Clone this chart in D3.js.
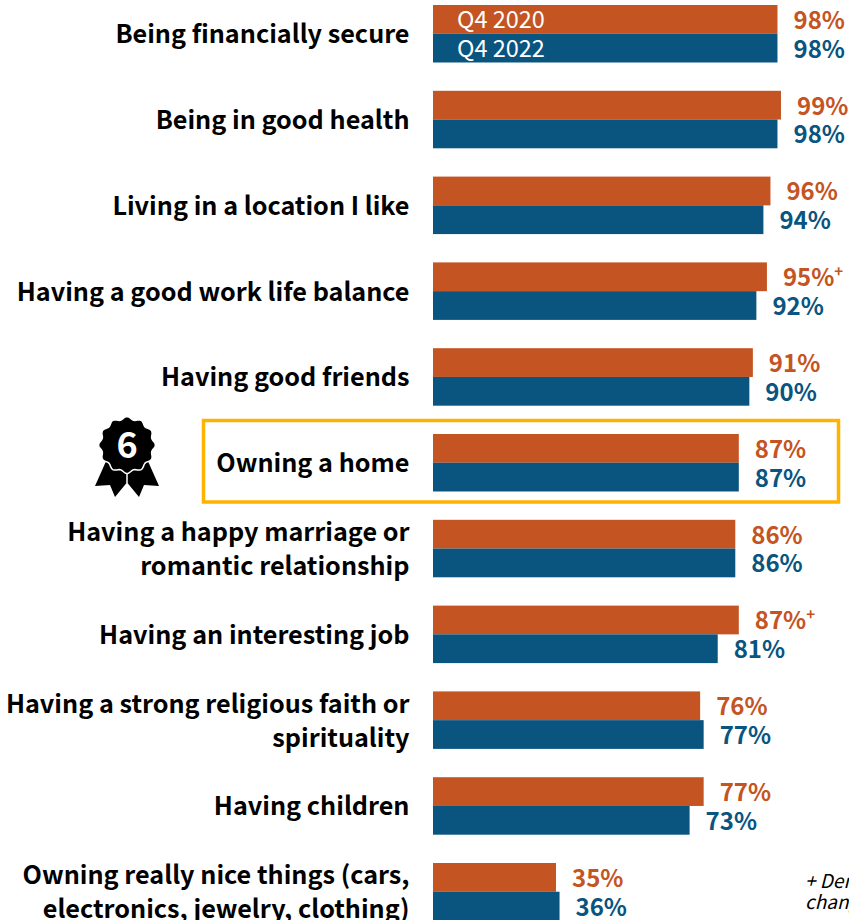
<!DOCTYPE html>
<html><head><meta charset="utf-8">
<script src="https://cdn.jsdelivr.net/npm/d3@7/dist/d3.min.js"></script>
<style>html,body{margin:0;padding:0;background:#fff;overflow:hidden}svg{display:block}
text{font-family:"Noto Sans CJK JP","Noto Sans",sans-serif}</style></head><body>
<svg id="c" width="849" height="920"></svg>
<script>
const categories = [
  ["Being financially secure"],["Being in good health"],["Living in a location I like"],
  ["Having a good work life balance"],["Having good friends"],["Owning a home"],
  ["Having a happy marriage or","romantic relationship"],["Having an interesting job"],
  ["Having a strong religious faith or","spirituality"],["Having children"],
  ["Owning really nice things (cars,","electronics, jewelry, clothing)"]];
const q42020 = [98,99,96,95,91,87,86,87,76,77,35];
const q42022 = [98,98,94,92,90,87,86,81,77,73,36];
const flags2020 = [0,0,0,1,0,0,0,1,0,0,0];
const seriesNames = ["Q4 2020","Q4 2022"];
const highlighted = "Owning a home";
const rankLabel = "6";
const noteLines = ["+ Denotes significant","change"];
const C20="#C45422", C22="#0A5480";

const svg=d3.select("#c");
const x=d3.scaleLinear().domain([0,100]).range([433,784.5]);
const y=d3.scaleBand().domain(d3.range(categories.length)).range([5,920.5]).paddingInner(0.33).paddingOuter(0);
const inner=i=>y(i)+y.bandwidth()/2;
const h=y.bandwidth()/2;

categories.forEach((lines,i)=>{
  const g=svg.append("g");
  g.append("rect").attr("x",x(0)).attr("y",y(i)).attr("width",x(q42020[i])-x(0)).attr("height",h).attr("fill",C20);
  g.append("rect").attr("x",x(0)).attr("y",inner(i)).attr("width",x(q42022[i])-x(0)).attr("height",h).attr("fill",C22);
  const v=(val,yy,col,flag)=>{
    const t=g.append("text").attr("x",x(val)+16).attr("y",yy).attr("fill",col).attr("font-weight",700).attr("font-size",24).text(val+"%");
    if(flag) t.append("tspan").attr("font-size",15).attr("dy",-9).text("+");
  };
  v(q42020[i],y(i)+h/2+9.5,C20,flags2020[i]);
  v(q42022[i],inner(i)+h/2+9.5,C22,0);
  const mid=inner(i);
  lines.forEach((l,k)=>{
    g.append("text").attr("x",409.5).attr("y",mid+9.5+(k-(lines.length-1)/2)*34)
     .attr("text-anchor","end").attr("font-weight",700).attr("font-size",25.2).attr("fill","#000").text(l);
  });
});
// legend inside first bars
seriesNames.forEach((s,k)=>{
  svg.append("text").attr("x",457).attr("y",(k?inner(0):y(0))+h/2+8.5).attr("fill","#fff").attr("font-size",23.5).attr("font-weight",400).text(s);
});
// highlight
const hi=categories.findIndex(c=>c[0]===highlighted);
svg.append("rect").attr("x",203.5).attr("y",y(hi)-13.5).attr("width",635).attr("height",81.5).attr("fill","none").attr("stroke","#FFB300").attr("stroke-width",3.5);
// badge
const badge=svg.append("g").attr("transform","translate(127,445)");
const pts=d3.range(0,144).map(j=>{const a=j/144*2*Math.PI;return [a,27+1.4*Math.cos(12*a)];});
badge.append("path").attr("d","M-20,14 L-32,41 L-17,40 L-12,52 L2,35 L-2,20 Z").attr("fill","#000");
badge.append("path").attr("d","M20,14 L32,41 L17,40 L12,52 L-2,35 L2,20 Z").attr("fill","#000");
badge.append("line").attr("x1",0).attr("x2",0).attr("y1",20).attr("y2",38).attr("stroke","#fff").attr("stroke-width",1.5);
badge.append("path").attr("d",d3.lineRadial().curve(d3.curveLinearClosed)(pts)).attr("fill","#000").attr("stroke","#fff").attr("stroke-width",1.5);
badge.append("text").attr("x",0).attr("y",13).attr("text-anchor","middle").attr("fill","#fff").attr("font-size",36).attr("font-weight",700).text(rankLabel);
// note
noteLines.forEach((l,k)=>{
  svg.append("text").attr("x",805).attr("y",888+k*21).attr("font-size",19).attr("font-style","italic").attr("fill","#000").text(l);
});
</script></body></html>
